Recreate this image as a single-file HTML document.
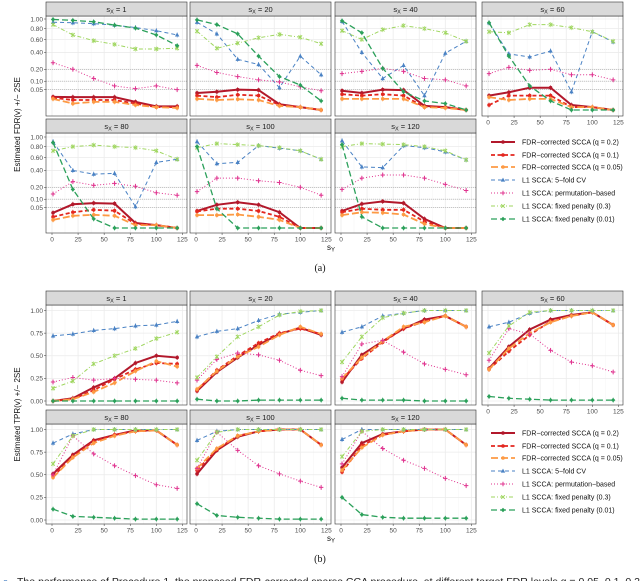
<!DOCTYPE html>
<html><head><meta charset="utf-8">
<style>
html,body{margin:0;padding:0;background:#fff;width:640px;height:581px;overflow:hidden}
svg{display:block;font-family:"Liberation Sans",sans-serif}
</style></head>
<body>
<svg id="fig" width="640" height="581" viewBox="0 0 640 581"></svg>
<script>
// x values (s_Y) and panel labels
const sY = [1,20,40,60,80,100,120];
const panelLabels = ["1","20","40","60","80","100","120"];
const xTicks = [0,25,50,75,100,125];
const fdrTicks = [1.00,0.80,0.60,0.40,0.20,0.10,0.05];
const fdrTickLabels = ["1.00","0.80","0.60","0.40","0.20","0.10","0.05"];
const fdrRefLines = [0.2,0.1,0.05];
const tprTicks = [0,0.25,0.5,0.75,1.0];
const tprTickLabels = ["0.00","0.25","0.50","0.75","1.00"];
const seriesNames = ["FDR\u2212corrected SCCA (q = 0.2)","FDR\u2212corrected SCCA (q = 0.1)","FDR\u2212corrected SCCA (q = 0.05)","L1 SCCA: 5\u2212fold CV","L1 SCCA: permutation\u2212based","L1 SCCA: fixed penalty (0.3)","L1 SCCA: fixed penalty (0.01)"];

// FDR values, per panel (sx=1,20,40,60,80,100,120)
const fdrQ02 = [[0.021,0.02,0.02,0.02,0.008,0.0016,0.0016],[0.035,0.04,0.05,0.048,0.004,0.001,0],[0.045,0.035,0.05,0.048,0.002,0.001,0],[0.025,0.038,0.06,0.06,0.003,0.001,0],[0.028,0.068,0.075,0.072,0.003,0.001,0],[0.035,0.065,0.08,0.065,0.03,0,0],[0.035,0.07,0.085,0.075,0.01,0,0]];
const fdrQ01 = [[0.018,0.012,0.012,0.012,0.005,0.001,0.001],[0.025,0.02,0.028,0.025,0.003,0.001,0],[0.03,0.025,0.03,0.025,0.001,0.001,0],[0.003,0.025,0.025,0.025,0.001,0.001,0],[0.015,0.03,0.04,0.036,0.002,0.001,0],[0.033,0.045,0.045,0.035,0.015,0,0],[0.03,0.045,0.04,0.04,0.005,0,0]];
const fdrQ005 = [[0.015,0.005,0.008,0.008,0.003,0.001,0.0005],[0.015,0.012,0.014,0.012,0.002,0.001,0],[0.015,0.015,0.015,0.015,0.001,0.0005,0],[0.02,0.012,0.015,0.015,0.001,0.001,0],[0.008,0.018,0.021,0.018,0.001,0.001,0],[0.02,0.02,0.022,0.015,0.008,0,0],[0.02,0.03,0.028,0.022,0.002,0,0]];
const fdrCV = [[0.93,0.92,0.90,0.87,0.82,0.76,0.68],[0.93,0.70,0.31,0.25,0.06,0.35,0.15],[0.95,0.40,0.12,0.24,0.025,0.39,0.57],[0.92,0.38,0.34,0.42,0.04,0.74,0.56],[0.90,0.40,0.35,0.36,0.055,0.52,0.57],[0.90,0.50,0.52,0.82,0.77,0.72,0.57],[0.92,0.45,0.44,0.82,0.78,0.70,0.56]];
const fdrPerm = [[0.27,0.20,0.12,0.07,0.055,0.07,0.05],[0.24,0.17,0.135,0.11,0.095,0.065,0.045],[0.16,0.18,0.21,0.18,0.12,0.11,0.07],[0.16,0.22,0.19,0.20,0.15,0.15,0.11],[0.14,0.26,0.22,0.24,0.21,0.15,0.13],[0.16,0.30,0.30,0.27,0.25,0.20,0.13],[0.18,0.30,0.34,0.34,0.30,0.23,0.17]];
const fdrF03 = [[0.88,0.68,0.58,0.52,0.45,0.45,0.46],[0.75,0.46,0.54,0.63,0.69,0.64,0.53],[0.76,0.60,0.78,0.86,0.80,0.72,0.57],[0.74,0.72,0.88,0.88,0.82,0.74,0.57],[0.72,0.80,0.83,0.80,0.78,0.72,0.57],[0.78,0.86,0.84,0.82,0.78,0.72,0.57],[0.80,0.86,0.85,0.84,0.80,0.72,0.56]];
const fdrF001 = [[0.99,0.97,0.94,0.87,0.81,0.68,0.50],[0.98,0.88,0.70,0.35,0.135,0.075,0.01],[0.96,0.72,0.21,0.04,0.01,0.005,0],[0.92,0.35,0.07,0.01,0,0,0],[0.88,0.18,0.01,0,0,0,0],[0.80,0.045,0,0,0,0,0],[0.84,0.015,0,0,0,0,0]];

// TPR values
const tprQ02 = [[0,0.03,0.15,0.25,0.42,0.50,0.48],[0.11,0.32,0.48,0.62,0.74,0.81,0.73],[0.21,0.51,0.66,0.80,0.90,0.94,0.82],[0.36,0.60,0.79,0.90,0.95,0.98,0.84],[0.51,0.72,0.88,0.94,0.99,0.99,0.83],[0.51,0.77,0.92,0.98,1.0,1.0,0.83],[0.58,0.85,0.95,0.98,1.0,1.0,0.83]];
const tprQ01 = [[0,0.02,0.12,0.24,0.35,0.42,0.41],[0.12,0.34,0.50,0.64,0.75,0.80,0.74],[0.24,0.47,0.65,0.80,0.88,0.94,0.82],[0.35,0.55,0.73,0.88,0.94,0.98,0.84],[0.48,0.70,0.87,0.94,0.98,0.99,0.83],[0.55,0.78,0.93,0.98,1.0,1.0,0.83],[0.53,0.82,0.94,0.98,1.0,1.0,0.83]];
const tprQ005 = [[0,0.02,0.10,0.20,0.33,0.44,0.38],[0.13,0.33,0.49,0.60,0.73,0.82,0.74],[0.25,0.48,0.66,0.82,0.87,0.94,0.82],[0.35,0.58,0.75,0.87,0.94,0.98,0.84],[0.47,0.69,0.85,0.93,0.98,0.99,0.83],[0.57,0.79,0.93,0.98,1.0,1.0,0.83],[0.55,0.80,0.94,0.98,1.0,1.0,0.83]];
const tprCV = [[0.72,0.74,0.78,0.80,0.83,0.84,0.88],[0.71,0.77,0.80,0.89,0.96,0.98,1.0],[0.76,0.82,0.94,0.97,1.0,1.0,1.0],[0.82,0.87,0.97,1.0,1.0,1.0,1.0],[0.85,0.95,1,1,1,1,1],[0.88,0.98,1,1,1,1,1],[0.89,1,1,1,1,1,1]];
const tprPerm = [[0.21,0.26,0.23,0.25,0.24,0.23,0.20],[0.23,0.46,0.53,0.51,0.45,0.34,0.28],[0.27,0.63,0.67,0.54,0.41,0.35,0.29],[0.45,0.80,0.74,0.56,0.43,0.39,0.32],[0.50,0.93,0.73,0.60,0.49,0.39,0.35],[0.57,0.97,0.77,0.60,0.51,0.43,0.36],[0.62,0.98,0.79,0.66,0.57,0.46,0.38]];
const tprF03 = [[0.14,0.22,0.41,0.50,0.58,0.69,0.76],[0.26,0.49,0.71,0.82,0.95,0.99,1.0],[0.43,0.71,0.92,0.97,1.0,1.0,1.0],[0.53,0.83,0.98,1.0,1.0,1.0,1.0],[0.62,0.93,1,1,1,1,1],[0.66,0.97,1,1,1,1,1],[0.70,0.98,1,1,1,1,1]];
const tprF001 = [[0,0,0,0,0,0,0],[0.02,0,0,0.01,0.01,0.01,0.01],[0.03,0.01,0.01,0.01,0,0,0],[0.05,0.03,0.02,0.01,0.01,0.01,0.01],[0.12,0.04,0.03,0.02,0.01,0.01,0.01],[0.18,0.05,0.03,0.02,0.01,0.01,0.01],[0.25,0.06,0.03,0.02,0.02,0.02,0.02]];

const NS = "http://www.w3.org/2000/svg";
const svg = document.getElementById("fig");
function mk(tag, attrs, parent){
  const e = document.createElementNS(NS, tag);
  for (const k in attrs) e.setAttribute(k, attrs[k]);
  (parent||svg).appendChild(e);
  return e;
}
const styles = [
  {c:"#b2182b", w:2.0, d:"", m:"circle"},
  {c:"#e3261f", w:1.8, d:"4,2.5", m:"circle"},
  {c:"#fd9a44", w:1.8, d:"7,3", m:"circle"},
  {c:"#4a82c4", w:1.0, d:"4,3", m:"tri"},
  {c:"#e0338f", w:1.0, d:"1,2", m:"plus"},
  {c:"#9fd65f", w:1.0, d:"4,2,1,2", m:"x"},
  {c:"#2ba05a", w:1.3, d:"6,3", m:"diamond"}
];
const colX = [46,190,335,482];
const PW = 141, PH = 100;
const xs = v => 6 + v*1.043;

function marker(g, st, x, y){
  let e;
  if (st.m==="circle"){ e = mk("circle",{cx:x,cy:y,r:1.8,fill:st.c},g); }
  else if (st.m==="tri"){ e = mk("path",{d:`M${x},${y-2.4}L${x+2.2},${y+1.6}L${x-2.2},${y+1.6}Z`,fill:st.c},g); }
  else if (st.m==="plus"){ e = mk("path",{d:`M${x-2.2},${y}H${x+2.2}M${x},${y-2.2}V${y+2.2}`,stroke:st.c,"stroke-width":1},g); }
  else if (st.m==="x"){ e = mk("path",{d:`M${x-1.8},${y-1.8}L${x+1.8},${y+1.8}M${x-1.8},${y+1.8}L${x+1.8},${y-1.8}`,stroke:st.c,"stroke-width":1},g); }
  else { e = mk("path",{d:`M${x},${y-2.2}L${x+2.2},${y}L${x},${y+2.2}L${x-2.2},${y}Z`,fill:st.c},g); }
  
  
}

function drawFigure(prefix, top1, top2, yscale, ticks, tickLabels, refLines, seriesSets, yTitle){
  const rowsTop = [top1, top2];
  for (let p=0;p<7;p++){
    const r = p<4?0:1, c = p<4?p:p-4;
    const px = colX[c], stripY = rowsTop[r], py = stripY+14;
    const g = mk("g",{transform:`translate(${px},${py})`});
    
    
    const s = mk("rect",{x:px,y:stripY,width:PW,height:14,fill:"#d9d9d9",stroke:"#333","stroke-width":0.6});
    
    
    const st = mk("text",{x:px+PW/2,y:stripY+10,"text-anchor":"middle","font-size":"7.5",fill:"#1a1a1a"});
    st.innerHTML = `s<tspan font-size="5.5" dy="1.5">X</tspan><tspan dy="-1.5"> = ${panelLabels[p]}</tspan>`;
    
    
    mk("rect",{x:0,y:0,width:PW,height:PH,fill:"#fff"},g);
    for (let i=0;i<xTicks.length;i++){
      mk("line",{x1:xs(xTicks[i]),x2:xs(xTicks[i]),y1:0,y2:PH,stroke:"#ebebeb","stroke-width":0.8},g);
      if(i<xTicks.length-1) mk("line",{x1:xs(xTicks[i]+12.5),x2:xs(xTicks[i]+12.5),y1:0,y2:PH,stroke:"#f4f4f4","stroke-width":0.5},g);
    }
    ticks.forEach(t=>mk("line",{x1:0,x2:PW,y1:yscale(t,r)-py,y2:yscale(t,r)-py,stroke:"#ebebeb","stroke-width":0.8},g));
    refLines.forEach(t=>mk("line",{x1:0,x2:PW,y1:yscale(t,r)-py,y2:yscale(t,r)-py,stroke:"#aaa","stroke-width":0.6,"stroke-dasharray":"1,1"},g));
    seriesSets.forEach((arr,si)=>{
      const sty = styles[si];
      const pts = arr[p].map((v,i)=>[xs(sY[i]), yscale(v,r)-py]);
      const pl = mk("polyline",{points:pts.map(q=>q.join(",")).join(" "),fill:"none",stroke:sty.c,"stroke-width":sty.w,"stroke-dasharray":sty.d},g);
      
      
      pts.forEach(q=>{
        mk("line",{x1:q[0],x2:q[0],y1:q[1]-2.5,y2:q[1]+2.5,stroke:sty.c,"stroke-width":0.6},g);
        marker(g, sty, q[0], q[1]);
      });
    });
    mk("rect",{x:0,y:0,width:PW,height:PH,fill:"none",stroke:"#333","stroke-width":0.6},g);
    if (c===0){
      ticks.forEach((t,i)=>{
        const yy = yscale(t,r);
        mk("line",{x1:px-2,x2:px,y1:yy,y2:yy,stroke:"#333","stroke-width":0.5});
        const tl = mk("text",{x:px-3,y:yy+2.3,"text-anchor":"end","font-size":"6.5",fill:"#4d4d4d"});
        tl.textContent = tickLabels[i];
        
        
      });
    }
    if (r===1 || c===3){
      xTicks.forEach(t=>{
        mk("line",{x1:px+xs(t),x2:px+xs(t),y1:py+PH,y2:py+PH+2,stroke:"#333","stroke-width":0.5});
        const tl = mk("text",{x:px+xs(t),y:py+PH+8.5,"text-anchor":"middle","font-size":"6.5",fill:"#4d4d4d"});
        tl.textContent = t;
        
        
      });
    }
  }
  const cy = (top1+top2+PH+28)/2;
  const yt = mk("text",{x:20,y:cy,"text-anchor":"middle","font-size":"8",fill:"#111",transform:`rotate(-90 20 ${cy})`});
  yt.textContent = yTitle;
  
  
  const xt = mk("text",{x:331,y:top2+14+PH+17,"text-anchor":"middle","font-size":"8",fill:"#111"});
  xt.innerHTML = `s<tspan font-size="6" dy="1.5">Y</tspan>`;
  
  
}

function drawLegend(prefix, ys){
  styles.forEach((sty,i)=>{
    const y = ys[i];
    const g = mk("g",{});
    
    
    mk("line",{x1:491,x2:515,y1:y,y2:y,stroke:sty.c,"stroke-width":sty.w,"stroke-dasharray":sty.d},g);
    marker(g, sty, 503, y);
    const t = mk("text",{x:522,y:y+2.5,"font-size":"7",fill:"#111"},g);
    t.textContent = seriesNames[i];
  });
}

const fdrY = (v,r) => (r===1?137:19) + (1-Math.sqrt(Math.max(v,0)))*91;
const tprY = (v,r) => (r===1?429.5:310.5) + (1-v)*90.5;

drawFigure("fdr", 2, 119, fdrY, fdrTicks, fdrTickLabels, fdrRefLines,
  [fdrQ02,fdrQ01,fdrQ005,fdrCV,fdrPerm,fdrF03,fdrF001], "Estimated FDR(v) +/\u2212 2SE");
drawFigure("tpr", 291, 410, tprY, tprTicks, tprTickLabels, [],
  [tprQ02,tprQ01,tprQ005,tprCV,tprPerm,tprF03,tprF001], "Estimated TPR(v) +/\u2212 2SE");
drawLegend("fdr", [142,155,167,180,193,206,219]);
drawLegend("tpr", [433,446,458,471,484,497,510]);

const la = mk("text",{x:320,y:271,"text-anchor":"middle","font-size":"10","font-family":"Liberation Serif, serif",fill:"#111"});
la.textContent = "(a)";


const lb = mk("text",{x:320,y:562,"text-anchor":"middle","font-size":"10","font-family":"Liberation Serif, serif",fill:"#111"});
lb.textContent = "(b)";


const cap = mk("text",{x:17,y:585,"font-size":"10.5",fill:"#222",textLength:"623"});
cap.textContent = "The performance of Procedure 1, the proposed FDR-corrected sparse CCA procedure, at different target FDR levels q = 0.05, 0.1, 0.2";


const ci = mk("text",{x:3,y:585,"font-size":"9",fill:"#4a82c4"});
ci.textContent = "o";


</script>
</body></html>
